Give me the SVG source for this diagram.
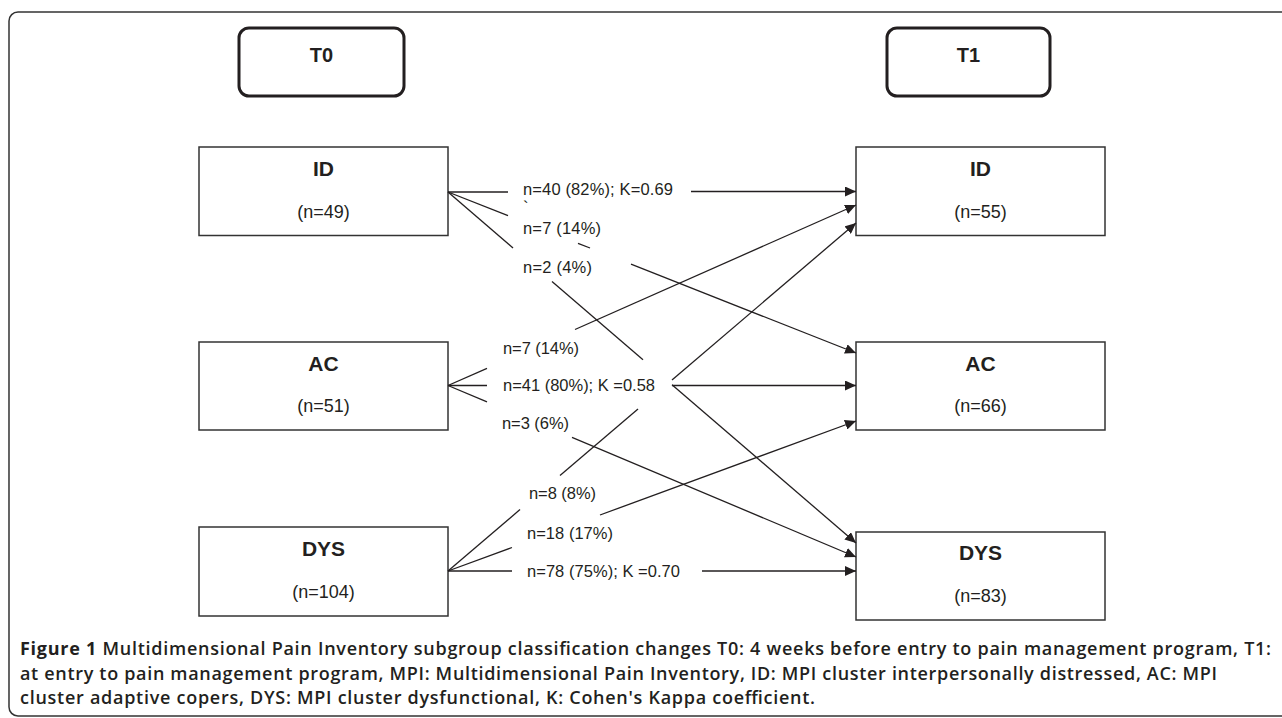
<svg xmlns="http://www.w3.org/2000/svg" width="1282" height="718" viewBox="0 0 1282 718">
<defs>
<style>
.frame{fill:none;stroke:#333;stroke-width:1.5}
.tbox{fill:#fff;stroke:#231f20;stroke-width:3}
.box{fill:#fff;stroke:#333;stroke-width:1.5}
.tt{font-family:"Liberation Sans",Arial,sans-serif;font-weight:bold;font-size:20px;fill:#231f20;text-anchor:middle}
.bt{font-family:"Liberation Sans",Arial,sans-serif;font-weight:bold;font-size:21px;fill:#231f20;text-anchor:middle}
.nt{font-family:"Liberation Sans",Arial,sans-serif;font-size:18px;fill:#231f20;text-anchor:middle}
.lb{font-family:"Liberation Sans",Arial,sans-serif;font-size:16.5px;fill:#231f20}
.cap{font-family:"Open Sans","Noto Sans",sans-serif;font-size:18px;font-weight:600;fill:#231f20}
.ln{stroke:#231f20;stroke-width:1.3;fill:none}
.ar{marker-end:url(#ah)}
</style>
<marker id="ah" markerUnits="userSpaceOnUse" markerWidth="11" markerHeight="10" refX="11" refY="5" orient="auto">
<path d="M0,0 L11,5 L0,10 z" fill="#231f20"/>
</marker>
</defs>
<rect width="1282" height="718" fill="#fff"/>
<rect class="frame" x="9" y="12" width="1290" height="704" rx="9"/>

<g id="T0"><rect class="tbox" x="239" y="28" width="165" height="68" rx="10"/><text class="tt" x="321.5" y="62">T0</text></g>
<g id="T1"><rect class="tbox" x="887" y="28" width="163" height="68" rx="10"/><text class="tt" x="968.5" y="62">T1</text></g>

<g id="ID0"><rect class="box" x="199" y="147" width="249" height="88.5"/><text class="bt" x="323.5" y="175.5">ID</text><text class="nt" x="323.5" y="217.5">(n=49)</text></g>
<g id="AC0"><rect class="box" x="199" y="342" width="249" height="88"/><text class="bt" x="323.5" y="370.5">AC</text><text class="nt" x="323.5" y="411.5">(n=51)</text></g>
<g id="DYS0"><rect class="box" x="199" y="527" width="249" height="89"/><text class="bt" x="323.5" y="555.5">DYS</text><text class="nt" x="323.5" y="597.5">(n=104)</text></g>

<g id="ID1"><rect class="box" x="856" y="147" width="249" height="88.5"/><text class="bt" x="980.5" y="175.5">ID</text><text class="nt" x="980.5" y="217.5">(n=55)</text></g>
<g id="AC1"><rect class="box" x="856" y="342" width="249" height="88"/><text class="bt" x="980.5" y="370.5">AC</text><text class="nt" x="980.5" y="411.5">(n=66)</text></g>
<g id="DYS1"><rect class="box" x="856" y="532" width="249" height="88"/><text class="bt" x="980.5" y="559.5">DYS</text><text class="nt" x="980.5" y="601.5">(n=83)</text></g>

<g id="connectors">
<line class="ln" x1="448" y1="192" x2="508" y2="192"/>
<line class="ln ar" x1="691" y1="191.5" x2="856" y2="191.5"/>
<line class="ln" x1="448" y1="192" x2="508" y2="215.7"/>
<line class="ln" x1="578" y1="243.3" x2="590" y2="248"/>
<line class="ln ar" x1="631" y1="264.2" x2="856" y2="353"/>
<line class="ln" x1="448" y1="192" x2="513" y2="247.9"/>
<line class="ln" x1="552" y1="281.5" x2="643" y2="359.8"/>
<line class="ln ar" x1="672" y1="384.7" x2="856" y2="543"/>

<line class="ln" x1="448" y1="385.5" x2="487" y2="368.3"/>
<line class="ln ar" x1="575" y1="329.5" x2="856" y2="205"/>
<line class="ln" x1="448" y1="385.5" x2="487" y2="385.5"/>
<line class="ln ar" x1="672" y1="385.5" x2="856" y2="385.5"/>
<line class="ln" x1="448" y1="385.5" x2="487" y2="401.9"/>
<line class="ln ar" x1="572" y1="437.3" x2="856" y2="557"/>

<line class="ln" x1="448" y1="571" x2="520" y2="509.6"/>
<line class="ln" x1="560" y1="475.5" x2="638" y2="409"/>
<line class="ln ar" x1="672" y1="380" x2="856" y2="223"/>
<line class="ln" x1="448" y1="571" x2="512" y2="547.5"/>
<line class="ln ar" x1="600" y1="515" x2="856" y2="421"/>
<line class="ln" x1="448" y1="571" x2="512" y2="571"/>
<line class="ln ar" x1="702" y1="571" x2="856" y2="571"/>
</g>

<g id="labels">
<text class="lb" x="523" y="195" textLength="150">n=40 (82%); K=0.69</text>
<text class="lb" x="523" y="213">`</text>
<text class="lb" x="523" y="234" textLength="78">n=7 (14%)</text>
<text class="lb" x="523" y="273" textLength="69">n=2 (4%)</text>
<text class="lb" x="503" y="354" textLength="76">n=7 (14%)</text>
<text class="lb" x="503" y="391" textLength="152">n=41 (80%); K =0.58</text>
<text class="lb" x="502" y="429" textLength="67">n=3 (6%)</text>
<text class="lb" x="529" y="499" textLength="67">n=8 (8%)</text>
<text class="lb" x="527" y="539" textLength="86">n=18 (17%)</text>
<text class="lb" x="527" y="577" textLength="153">n=78 (75%); K =0.70</text>
</g>

<g id="caption">
<text class="cap" x="20" y="655" textLength="1251"><tspan font-weight="bold">Figure 1</tspan> Multidimensional Pain Inventory subgroup classification changes T0: 4 weeks before entry to pain management program, T1:</text>
<text class="cap" x="20" y="680" textLength="1197">at entry to pain management program, MPI: Multidimensional Pain Inventory, ID: MPI cluster interpersonally distressed, AC: MPI</text>
<text class="cap" x="20" y="704" textLength="795">cluster adaptive copers, DYS: MPI cluster dysfunctional, K: Cohen's Kappa coefficient.</text>
</g>
</svg>
